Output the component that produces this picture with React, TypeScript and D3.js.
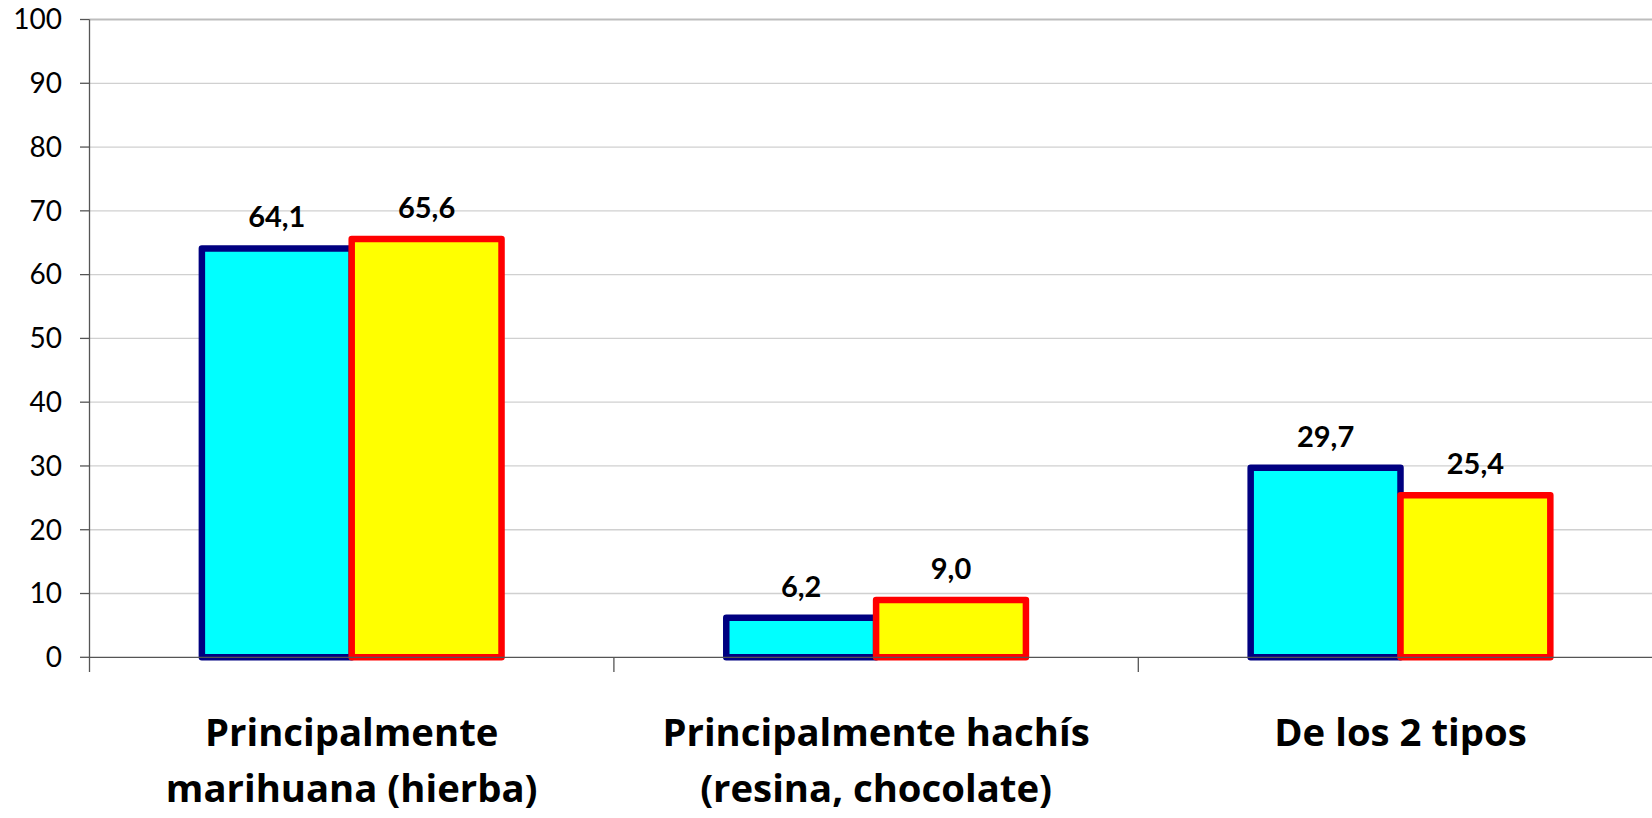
import React, { useEffect } from "react";
import * as d3 from "d3";

const categories: string[][] = [
  ["Principalmente", "marihuana (hierba)"],
  ["Principalmente hachís", "(resina, chocolate)"],
  ["De los 2 tipos"],
];
const seriesA: number[] = [64.1, 6.2, 29.7];
const seriesB: number[] = [65.6, 9.0, 25.4];
const yTicks: number[] = [0, 10, 20, 30, 40, 50, 60, 70, 80, 90, 100];

const W = 1652;
const H = 818;
const left = 89.5;
const catW = 524.4;
const y0 = 657.3;
const y100 = 19.5;

export default function App() {
  useEffect(() => {
    document.body.style.margin = "0";
  }, []);

  const x = d3
    .scaleBand<number>()
    .domain([0, 1, 2])
    .range([left, left + 3 * catW])
    .paddingInner(0)
    .paddingOuter(0);
  const y = d3.scaleLinear().domain([0, 100]).range([y0, y100]);
  const barW = catW / 3.5;
  const fmt = (v: number) => v.toFixed(1).replace(".", ",");
  const series = [
    { vals: seriesA, fill: "#00FFFF", stroke: "#000080", off: -barW },
    { vals: seriesB, fill: "#FFFF00", stroke: "#FF0000", off: 0 },
  ];

  return (
    <svg width={W} height={H} style={{ display: "block", background: "#fff" }}>
      {yTicks.map((t) => (
        <g key={t}>
          {t > 0 && (
            <line x1={left} x2={W} y1={y(t)} y2={y(t)} stroke={t === 100 ? "#bdbdbd" : "#d0d0d0"} strokeWidth={t === 100 ? 2 : 1.3} />
          )}
          <line x1={80} x2={left} y1={y(t)} y2={y(t)} stroke="#555" strokeWidth={1.3} />
          <text x={62} y={y(t)} dy="0.35em" textAnchor="end" fontFamily="Lato" fontSize={28} fill="#000">
            {t}
          </text>
        </g>
      ))}
      {series.map((s, si) =>
        s.vals.map((v, i) => {
          const cx = (x(i) as number) + catW / 2 + s.off;
          return (
            <g key={`${si}-${i}`}>
              <rect
                x={cx}
                y={y(v)}
                width={barW}
                height={y0 - y(v)}
                fill={s.fill}
                stroke={s.stroke}
                strokeWidth={6.5}
                strokeLinejoin="round"
              />
              <text
                x={cx + barW / 2}
                y={y(v) - 21}
                textAnchor="middle"
                fontFamily="Lato"
                fontWeight="bold"
                fontSize={29}
                fill="#000"
              >
                {fmt(v)}
              </text>
            </g>
          );
        })
      )}
      <line x1={left} x2={left} y1={y100} y2={672} stroke="#555" strokeWidth={1.3} />
      <line x1={left} x2={W} y1={y0} y2={y0} stroke="#555" strokeWidth={1.3} />
      {[1, 2].map((i) => (
        <line key={i} x1={x(i) as number} x2={x(i) as number} y1={y0} y2={672} stroke="#555" strokeWidth={1.3} />
      ))}
      {categories.map((lines, i) =>
        lines.map((ln, j) => (
          <text
            key={`${i}-${j}`}
            x={(x(i) as number) + catW / 2}
            y={745.5 + j * 56.5}
            textAnchor="middle"
            fontFamily="Open Sans"
            fontWeight="bold"
            fontSize={38.3}
            fill="#000"
          >
            {ln}
          </text>
        ))
      )}
    </svg>
  );
}
